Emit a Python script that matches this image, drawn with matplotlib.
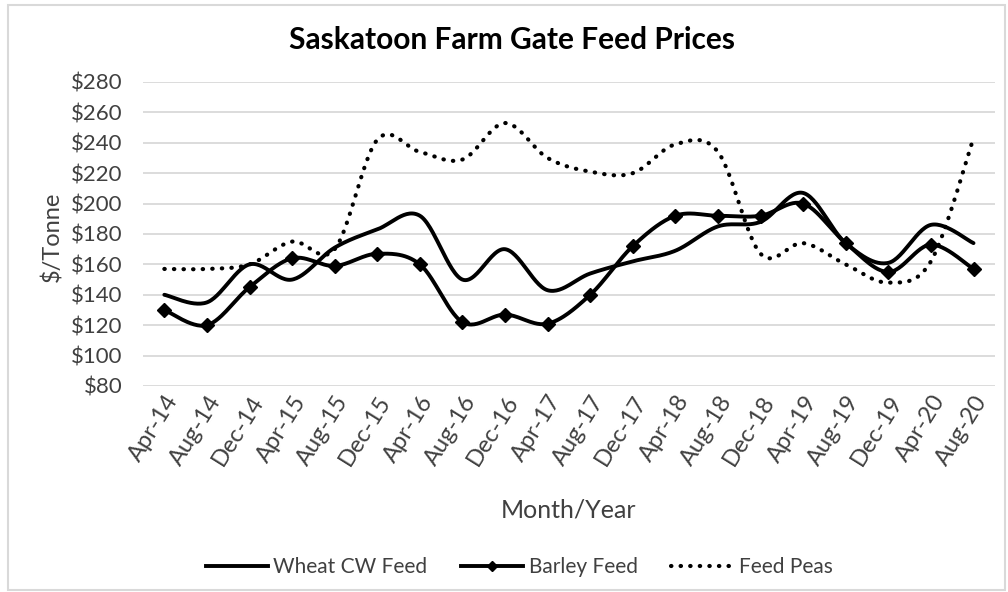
import numpy as np
import matplotlib
matplotlib.use("Agg")
import matplotlib.pyplot as plt
from matplotlib.lines import Line2D

plt.rcParams['font.family'] = ['Lato', 'DejaVu Sans']

months = ['Apr-14', 'Aug-14', 'Dec-14', 'Apr-15', 'Aug-15', 'Dec-15', 'Apr-16',
          'Aug-16', 'Dec-16', 'Apr-17', 'Aug-17', 'Dec-17', 'Apr-18', 'Aug-18',
          'Dec-18', 'Apr-19', 'Aug-19', 'Dec-19', 'Apr-20', 'Aug-20']
wheat = [140, 135, 160, 150, 171, 183, 192, 150, 170, 143,
         154, 162, 169, 185, 188, 207, 174, 161, 186, 174]
barley = [130, 120, 145, 164, 159, 167, 160, 122, 127, 121,
          140, 172, 192, 192, 192, 200, 174, 155, 173, 157]
peas = [157, 157, 160, 175, 170, 242, 234, 229, 253, 230,
        221, 220, 239, 234, 167, 174, 160, 148, 162, 243]
y_ticks = list(range(80, 281, 20))


def smooth(xs, ys, n=30):
    # excel-ish smoothed line: bezier segments with catmull-rom controls
    xs = np.asarray(xs, float)
    ys = np.asarray(ys, float)
    px = np.concatenate([[xs[0]], xs, [xs[-1]]])
    py = np.concatenate([[ys[0]], ys, [ys[-1]]])
    out_x, out_y = [], []
    t = np.linspace(0, 1, n)
    for i in range(1, len(px) - 2):
        p0 = np.array([px[i], py[i]])
        p3 = np.array([px[i + 1], py[i + 1]])
        c1 = p0 + (np.array([px[i + 1], py[i + 1]]) - np.array([px[i - 1], py[i - 1]])) / 6
        c2 = p3 - (np.array([px[i + 2], py[i + 2]]) - np.array([px[i], py[i]])) / 6
        b = ((1 - t) ** 3)[:, None] * p0 + (3 * (1 - t) ** 2 * t)[:, None] * c1 \
            + (3 * (1 - t) * t ** 2)[:, None] * c2 + (t ** 3)[:, None] * p3
        out_x.extend(b[:, 0])
        out_y.extend(b[:, 1])
    return out_x, out_y


x = np.arange(len(months))

fig = plt.figure(figsize=(10.08, 5.92), dpi=100)
ax = fig.add_axes([0.1419, 0.348, 0.845, 0.5135])

for v in y_ticks:
    ax.axhline(v, color='#d9d9d9', lw=1.3, zorder=0)

sx, sy = smooth(x, wheat)
ax.plot(sx, sy, color='black', lw=2.8, solid_capstyle='round')
sx, sy = smooth(x, barley)
ax.plot(sx, sy, color='black', lw=2.8, solid_capstyle='round')
ax.plot(x, barley, ls='none', marker='D', ms=7, color='black')
sx, sy = smooth(x, peas)
ax.plot(sx, sy, color='black', lw=3, ls=(0, (0.1, 2.2)), dash_capstyle='round')

ax.set_xlim(-0.5, len(months) - 0.5)
ax.set_ylim(80, 280)
ax.set_yticks(y_ticks)
ax.set_yticklabels(['$%d' % v for v in y_ticks], fontsize=16, color='#404040')
ax.set_xticks(x)
ax.set_xticklabels(months, rotation=58, ha='right', rotation_mode='anchor',
                   fontsize=17, color='#404040')
ax.tick_params(axis='y', length=0, pad=15)
ax.tick_params(axis='x', length=0, pad=4)
for s in ax.spines.values():
    s.set_visible(False)

fig.text(0.052, 0.6, '$/Tonne', fontsize=17, color='#404040', rotation=90,
         ha='center', va='center')
fig.text(0.564, 0.138, 'Month/Year', fontsize=18, color='#404040', ha='center', va='center')
fig.text(0.508, 0.932, 'Saskatoon Farm Gate Feed Prices', fontsize=21.5, fontweight='bold',
         ha='center', va='center', color='black')

handles = [
    Line2D([], [], color='black', lw=2.8),
    Line2D([], [], color='black', lw=2.8, marker='D', ms=5),
    Line2D([], [], color='black', lw=3, ls=(0, (0.1, 2.2)), dash_capstyle='round'),
]
fig.legend(handles, ['Wheat CW Feed', 'Barley Feed', 'Feed Peas'], loc='center',
           bbox_to_anchor=(0.515, 0.042), ncol=3, frameon=False, fontsize=15,
           handlelength=3.0, columnspacing=1.6, handletextpad=0.25, labelcolor='#404040')

fig.add_artist(plt.Rectangle((0.008, 0.003), 0.989, 0.989, transform=fig.transFigure,
                             fill=False, edgecolor='#d9d9d9', lw=1.5))

fig.savefig('out.png', dpi=100)
